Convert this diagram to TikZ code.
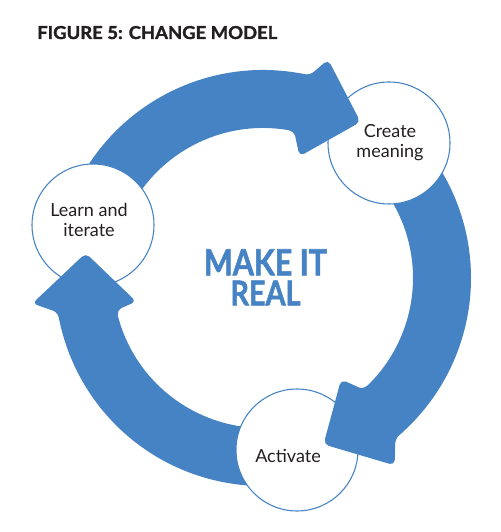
\documentclass[tikz,border=0pt]{standalone}
\usepackage{fontspec}
\setmainfont{Lato}
\newfontfamily\heavyfont{Lato}[BoldFeatures={FakeBold=1.6}]
\usepackage{graphicx}
\definecolor{ringblue}{RGB}{69,131,196}
\definecolor{inkgray}{RGB}{35,31,32}
\begin{document}
\begin{tikzpicture}[x=0.75pt,y=0.75pt,
  ringfill/.style={fill=ringblue},
  headfill/.style={fill=ringblue, rounded corners=4pt},
  stage/.style={circle, draw=ringblue, line width=0.8pt, fill=white, minimum size=91.5pt, inner sep=0pt},
  stagetext/.style={font=\fontsize{13.5}{15}\selectfont, text=inkgray, align=center, inner sep=0pt},
  bigtext/.style={anchor=base west, inner sep=0pt}]
\useasboundingbox (0,0) rectangle (500,532);
% ring shafts
\begin{scope}[shift={(263,254)}]
  \fill[ringfill] (163:208) arc[start angle=163,end angle=77,radius=208] -- (77:150) arc[start angle=77,end angle=163,radius=150] -- cycle;
  \fill[ringfill] (47:208) arc[start angle=47,end angle=-50,radius=208] -- (-48:150) arc[start angle=-48,end angle=47,radius=150] -- cycle;
  \fill[ringfill] (281:208) arc[start angle=281,end angle=189.5,radius=208] -- (192:150) arc[start angle=192,end angle=281,radius=150] -- cycle;
\end{scope}
% stage circles
\node[stage] (learn) at (93,307) {};
\node[stage] (create) at (389,389) {};
\node[stage] (activate) at (297,82) {};
% arrow heads over the circles
\begin{scope}[shift={(263,254)}]
  \fill[headfill] (81:208) -- (77:208) -- (73.4:228) -- (58:184) -- (73.3:127) -- (78:150) -- (82:150) -- cycle;
  \fill[headfill] (-46:208) -- (-50.5:208) -- (-54.9:229) -- (-70:177) -- (-52.4:128) -- (-48:150) -- (-44:150) -- cycle;
  \fill[headfill] (193:208) -- (189.5:208) -- (186.3:232) -- (172:179) -- (190.5:129) -- (192.4:150) -- (196:150) -- cycle;
\end{scope}
% texts
\node[stagetext] (learntext) at (89,312) {Learn and\\iterate};
\node[stagetext] (createtext) at (390,389.5) {Create\\meaning};
\node[stagetext, anchor=base] (activatetext) at (288,69) {Activate};
\node[bigtext, text=inkgray] (title) at (37,493) {\resizebox{180pt}{9.75pt}{\heavyfont\bfseries FIGURE 5: CHANGE MODEL}};
\node[anchor=north, inner sep=0pt, align=center, text=ringblue, font=\fontsize{20}{22.5}\selectfont] (makeitreal) at (265.5,283)
  {\resizebox{92.25pt}{19.5pt}{\heavyfont\bfseries MAKE IT}\\\resizebox{52.5pt}{18.5pt}{\heavyfont\bfseries REAL}};
\end{tikzpicture}
\end{document}
